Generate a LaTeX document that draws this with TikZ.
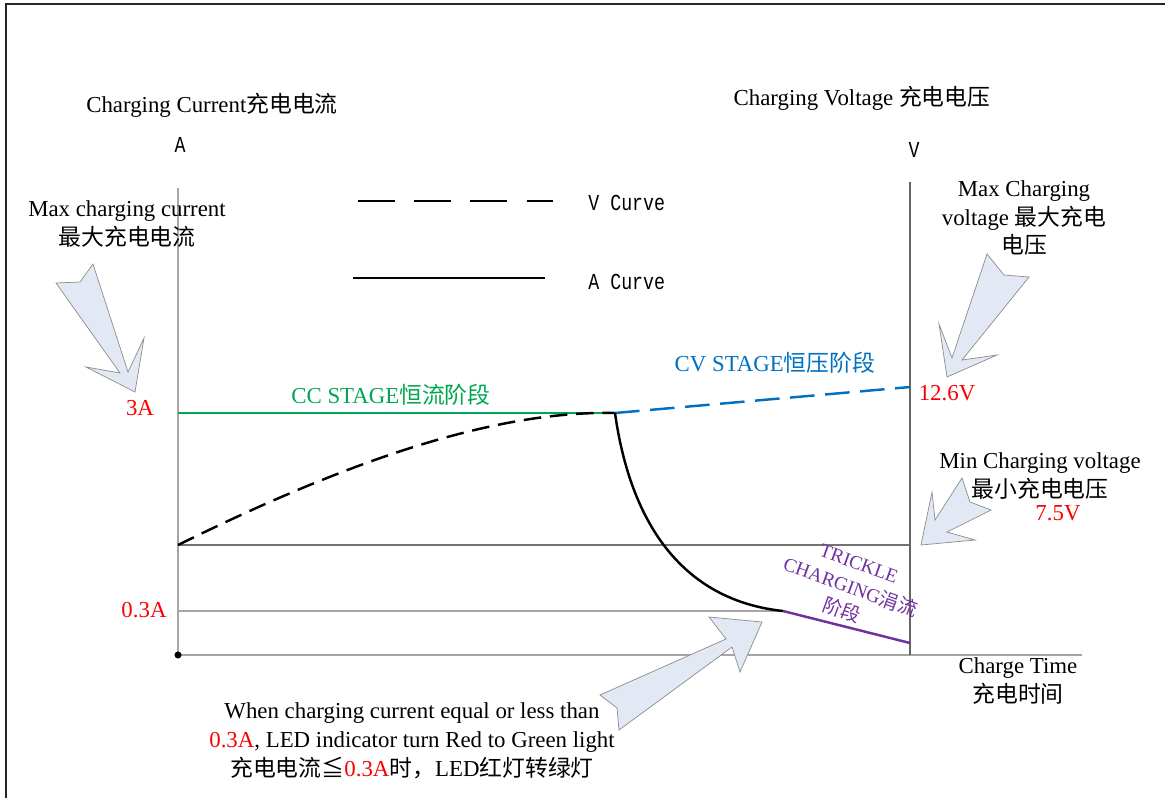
\documentclass[tikz,border=0pt]{standalone}
\usepackage{fontspec}
\setmainfont{Liberation Serif}
\newfontfamily\cjk{Noto Sans CJK SC}
\newfontfamily\lgd[FakeStretch=0.8]{Liberation Mono}
\usepackage{tikz}
\usetikzlibrary{positioning,calc}
\definecolor{ccgreen}{RGB}{0,166,81}
\definecolor{cvblue}{RGB}{0,112,192}
\definecolor{trpurple}{RGB}{112,48,160}
\definecolor{lblred}{RGB}{250,0,0}
\definecolor{callfill}{RGB}{226,232,244}
\newcommand{\rd}[1]{\textcolor{lblred}{#1}}

\begin{document}
\begin{tikzpicture}[x=0.02cm,y=-0.02cm,
  every node/.style={inner sep=0pt,align=center,font=\fontsize{13}{16.4}\selectfont},
  lgdtxt/.style={font=\lgd\fontsize{13}{15}\selectfont},
  callout/.style={draw=black!45,fill=callfill,line join=miter},
  vcurve/.style={line width=1.4pt,dash pattern=on 10pt off 5pt},
  acurve/.style={line width=1.4pt}]
  \useasboundingbox (0,0) rectangle (1165,798);
  \draw[line width=1.6pt,black!85] (1165,4) -- (6,4) -- (6,798);

  \coordinate (O) at (178,655);      \coordinate (Atop) at (178,188);
  \coordinate (Vtop) at (910,182);   \coordinate (Vbot) at (910,655);
  \coordinate (Tend) at (1082,655);
  \coordinate (lo) at (178,545);     \coordinate (lor) at (910,545);
  \coordinate (tr) at (178,611);     \coordinate (knee) at (783,611);
  \coordinate (cc) at (178,413);     \coordinate (brk) at (615,413);
  \coordinate (cv) at (910,387);     \coordinate (tend) at (910,643);

  \draw[black!35,line width=0.8pt] (Atop) -- (O) -- (Tend);
  \draw[black!35,line width=0.8pt] (tr) -- (knee);
  \draw[black!55,line width=0.8pt] (lo) -- (lor);
  \draw[black!60,line width=0.8pt] (Vtop) -- (Vbot);
  \fill (O) circle (2pt);

  \draw[ccgreen,line width=1.4pt] (cc) -- (brk);
  \draw[vcurve] (lo) .. controls (320,475) and (480,410) .. (brk);
  \draw[vcurve,cvblue,dash pattern=on 14pt off 6pt] (brk) -- (cv);
  \draw[acurve] (brk) .. controls (630,520) and (680,600) .. (knee);
  \draw[acurve,trpurple] (knee) -- (tend);

  \coordinate (lv1) at (358,201);    \coordinate (lv2) at (553,201);
  \coordinate (la1) at (353,278);    \coordinate (la2) at (545,278);
  \draw[line width=1.6pt,dash pattern=on 21pt off 11pt] (lv1) -- (lv2);
  \draw[line width=1.6pt] (la1) -- (la2);
  \node[lgdtxt,anchor=west] (legV) at (588,203) {V Curve};
  \node[lgdtxt,anchor=west] (legA) at (588,282) {A Curve};

  \node (curlbl) at (212,105) {Charging Current{\cjk 充电电流}};
  \node[lgdtxt] (amp) at (180,145) {A};
  \node (vollbl) at (862,98) {Charging Voltage {\cjk 充电电压}};
  \node[lgdtxt] (volt) at (914,150) {V};

  \node (maxcur) at (127,224) {Max charging current\\{\cjk 最大充电电流}};
  \node (maxvol) at (1024,218) {Max Charging\\voltage {\cjk 最大充电}\\{\cjk 电压}};
  \node (minvol) at (1040,476) {Min Charging voltage\\{\cjk 最小充电电压}};
  \node[lblred] (v75) at (1058,513) {7.5V};
  \node[lblred] (v126) at (947,393) {12.6V};
  \node[lblred] (a3) at (140,408) {3A};
  \node[lblred] (a03) at (144,610) {0.3A};

  \node[ccgreen] (ccst) at (391,395) {CC STAGE{\cjk 恒流阶段}};
  \node[cvblue] (cvst) at (775,363) {CV STAGE{\cjk 恒压阶段}};
  \node[trpurple,rotate=-20,font=\fontsize{11}{14.3}\selectfont] (trst) at (850,588)
    {TRICKLE\\CHARGING{\cjk 涓流}\\{\cjk 阶段}};

  \node (time) at (1018,681) {Charge Time\\{\cjk 充电时间}};
  \node (note) at (412,741) {When charging current equal or less than\\
    \rd{0.3A}, LED indicator turn Red to Green light\\
    {\cjk 充电电流≦}\rd{0.3A}{\cjk 时，}LED{\cjk 红灯转绿灯}};

  \draw[callout] (93,264) -- (128,372) -- (144,338) -- (135,392) -- (86,367)
    -- (120,373) -- (56,283) -- (80,282) -- cycle;
  \draw[callout] (987,254) -- (1004,275) -- (1029,277) -- (962,360) -- (997,355)
    -- (947,377) -- (939,324) -- (952,358) -- cycle;
  \draw[callout] (962,478) -- (970,502) -- (991,510) -- (947,532) -- (975,540)
    -- (921,545) -- (932,492) -- (935,520) -- cycle;
  \draw[callout] (762,622) -- (709,617) -- (726,639) -- (600,695) -- (617,708)
    -- (619,730) -- (732,647) -- (740,672) -- cycle;
\end{tikzpicture}
\end{document}
